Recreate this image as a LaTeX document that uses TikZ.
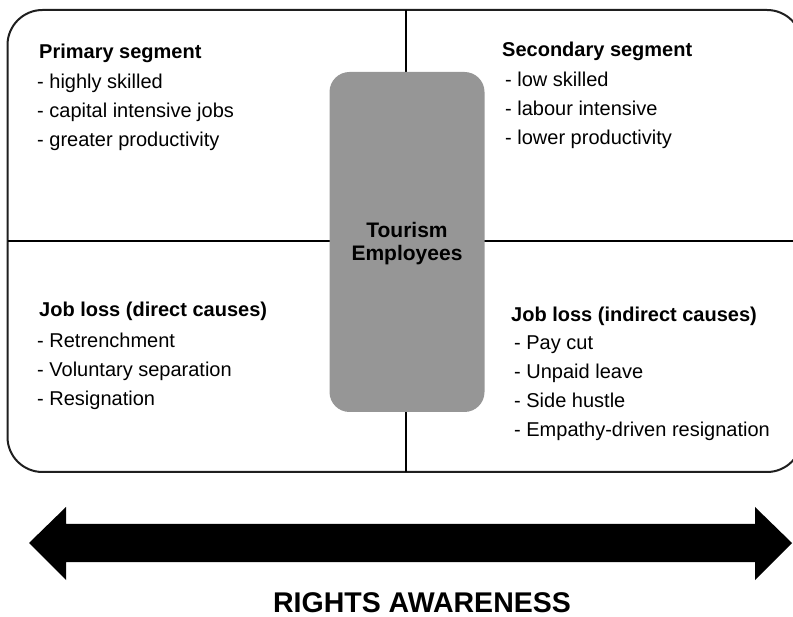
\documentclass[tikz,border=0pt]{standalone}
\usepackage{fontspec}
\setmainfont{Liberation Sans}
\begin{document}
\begin{tikzpicture}[x=1pt,y=-1pt,
        head/.style={anchor=base west,inner sep=0pt,font=\fontsize{20}{24}\selectfont\bfseries},
        items/.style={anchor=north west,inner sep=0pt,align=left,font=\fontsize{20}{29}\selectfont}]
        \useasboundingbox (0,0) rectangle (793,617);
        % frame and quadrants
        \draw [line width=2pt,black!88,rounded corners=35pt] (7.5,10) rectangle (802,472);
        \draw [line width=1.5pt] (406,10) -- (406,472);
        \draw [line width=1.5pt] (7.5,241) -- (802,241);
        \node [fill=black!41,rounded corners=20pt,minimum width=155pt,minimum height=340pt] (emp) at (407,242) {};
        \node [align=center,font=\fontsize{21}{22.5}\selectfont\bfseries] (emptxt) at (407,243.5) {Tourism\\Employees};
        \node [head] (pri) at (39,59) {Primary segment};
        \node [items] (prilist) at (37,73.7) {- highly skilled\\- capital intensive jobs\\- greater productivity};
        \node [head] (sec) at (502,57) {Secondary segment};
        \node [items] (seclist) at (505,71.7) {- low skilled\\- labour intensive\\- lower productivity};
        \node [head] (dir) at (39,317) {Job loss (direct causes)};
        \node [items] (dirlist) at (37,332.7) {- Retrenchment\\- Voluntary separation\\- Resignation};
        \node [head] (ind) at (511,322) {Job loss (indirect causes)};
        \node [items] (indlist) at (514,335.7) {- Pay cut\\- Unpaid leave\\- Side hustle\\- Empathy-driven resignation};
        % double arrow
        \fill (29,543) -- (66,507) -- (66,524) -- (755,524) -- (755,507) -- (792,543)
            -- (755,580) -- (755,562) -- (66,562) -- (66,580) -- cycle;
        \node [anchor=base,inner sep=0pt,font=\fontsize{28.5}{30}\selectfont\bfseries] (rights) at (422,612) {RIGHTS AWARENESS};
    \end{tikzpicture}
\end{document}
